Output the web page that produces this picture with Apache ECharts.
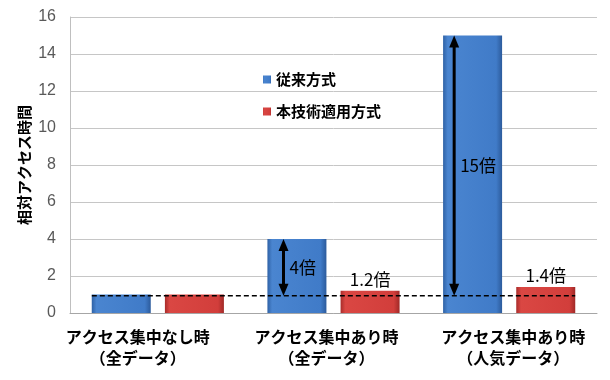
<!DOCTYPE html>
<html>
<head>
<meta charset="utf-8">
<script src="https://cdn.jsdelivr.net/npm/echarts@6/dist/echarts.min.js"></script>
<style>
  html, body { margin: 0; padding: 0; background: #fff; }
  #main { width: 610px; height: 380px; }
</style>
</head>
<body>
<div id="main"></div>
<script>
// カテゴリ
var categories = ['アクセス集中なし時\n（全データ）', 'アクセス集中あり時\n（全データ）', 'アクセス集中あり時\n（人気データ）'];
var seriesNames = ['従来方式', '本技術適用方式'];
// 相対アクセス時間
var conventional = [1, 4, 15];
var proposed = [1, 1.2, 1.4];
var proposedLabels = ['', '1.2倍', '1.4倍'];
// 矢印 [カテゴリ番号, 上端の値]
var arrows = [[1, 4], [2, 15]];
var arrowLabels = ['4倍', '15倍'];
var refLevel = 0.93;
var yMin = 0, yMax = 16, yStep = 2;

var cjk = '"Noto Sans CJK JP", "Noto Sans", sans-serif';
var labelPad = [[0, 40, 0, 0], [0, 14, 0, 0], [0, 0, 0, 8]];
var arrowShift = [-50, -55];

var myChart = echarts.init(document.getElementById('main'));

// 棒の色（横方向グラデーション）
var blueFill = new echarts.graphic.LinearGradient(0, 0, 1, 0, [
  { offset: 0, color: '#2f62a6' },
  { offset: 0.08, color: '#4a85d0' },
  { offset: 0.9, color: '#407bc8' },
  { offset: 1, color: '#2c5b9c' }
]);
var redFill = new echarts.graphic.LinearGradient(0, 0, 1, 0, [
  { offset: 0, color: '#a82c2a' },
  { offset: 0.08, color: '#da4743' },
  { offset: 0.9, color: '#d23e3b' },
  { offset: 1, color: '#a02927' }
]);

function renderArrow (params, api) {
  var top = api.coord([api.value(0), api.value(1)]);
  var base = api.coord([api.value(0), refLevel]);
  var x = top[0] + arrowShift[params.dataIndex];
  var yTop = top[1], yBase = base[1];
  var head = 12, half = 5;
  return {
    type: 'group',
    children: [
      { type: 'line', shape: { x1: x, y1: yTop + head - 2, x2: x, y2: yBase - head + 2 }, style: { stroke: '#000', lineWidth: 3 } },
      { type: 'polygon', shape: { points: [[x, yTop], [x - half, yTop + head], [x + half, yTop + head]] }, style: { fill: '#000' } },
      { type: 'polygon', shape: { points: [[x, yBase], [x - half, yBase - head], [x + half, yBase - head]] }, style: { fill: '#000' } },
      {
        type: 'text', x: x + 6, y: (yTop + yBase) / 2,
        style: { text: arrowLabels[params.dataIndex], fill: '#000', font: '17px ' + cjk, textAlign: 'left', textVerticalAlign: 'middle' }
      }
    ]
  };
}

function renderRefLine (params, api) {
  var left = api.coord([0, api.value(1)]);
  var right = api.coord([categories.length - 1, api.value(1)]);
  return {
    type: 'line',
    shape: { x1: left[0] - 66, y1: left[1], x2: right[0] + 66, y2: right[1] },
    style: { stroke: '#000', lineWidth: 1.5, lineDash: [5, 3] }
  };
}

var option = {
  backgroundColor: '#fff',
  animation: false,
  grid: { left: 70, right: 13, top: 17, bottom: 67 },
  legend: {
    data: seriesNames,
    orient: 'vertical',
    left: 258,
    top: 67,
    itemWidth: 8,
    itemHeight: 8,
    itemGap: 17,
    icon: 'rect',
    textStyle: { fontFamily: cjk, fontSize: 15, fontWeight: 'bold', color: '#000' }
  },
  xAxis: {
    type: 'category',
    data: categories.map(function (c, i) {
      return { value: c, textStyle: { padding: labelPad[i] } };
    }),
    axisLine: { lineStyle: { color: '#a6a6a6' } },
    axisTick: { show: false },
    axisLabel: {
      interval: 0, margin: 13,
      fontFamily: cjk, fontSize: 16, fontWeight: 'bold', color: '#000', lineHeight: 21
    }
  },
  yAxis: {
    type: 'value',
    min: yMin, max: yMax, interval: yStep,
    name: '相対アクセス時間',
    nameLocation: 'middle',
    nameRotate: 90,
    nameGap: 38,
    nameMoveOverlap: false,
    nameTextStyle: { fontFamily: cjk, fontSize: 15, fontWeight: 'bold', color: '#000' },
    axisLine: { show: true, lineStyle: { color: '#bfbfbf' } },
    axisTick: { show: false },
    axisLabel: { margin: 14, fontFamily: 'Liberation Sans, Arial, sans-serif', fontSize: 16, color: '#595959' },
    splitLine: { lineStyle: { color: '#c6c6c6' } }
  },
  series: [
    {
      name: seriesNames[0],
      type: 'bar',
      data: conventional,
      barWidth: 59,
      barGap: '24%',
      itemStyle: { color: blueFill }
    },
    {
      name: seriesNames[1],
      type: 'bar',
      data: proposed,
      barWidth: 59,
      itemStyle: { color: redFill },
      label: {
        show: true,
        position: 'top',
        distance: 3,
        formatter: function (p) { return proposedLabels[p.dataIndex]; },
        fontFamily: cjk, fontSize: 17, color: '#000'
      }
    },
    {
      name: 'ref',
      type: 'custom',
      data: [[0, refLevel]],
      encode: { x: 0, y: 1 },
      renderItem: renderRefLine,
      z: 5,
      silent: true
    },
    {
      name: 'arrows',
      type: 'custom',
      data: arrows,
      encode: { x: 0, y: 1 },
      renderItem: renderArrow,
      z: 6,
      silent: true
    }
  ]
};

myChart.setOption(option);
</script>
</body>
</html>
